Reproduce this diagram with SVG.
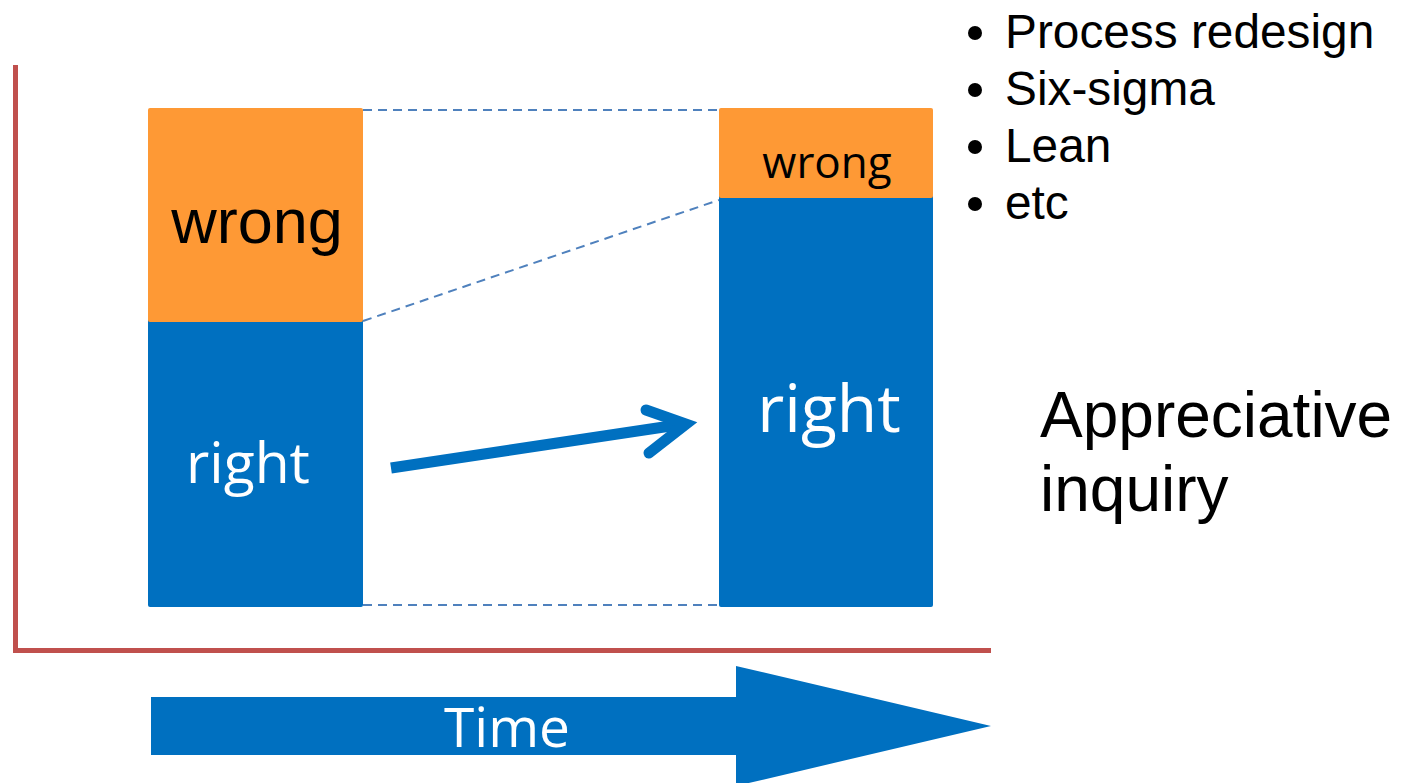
<svg xmlns="http://www.w3.org/2000/svg" width="1402" height="783" viewBox="0 0 1402 783">
  <style>
    .wrong { fill: #fe9935; }
    .right { fill: #0070c0; }
    .axis { stroke: #c0504d; stroke-width: 5; fill: none; }
    .guide { stroke: #4f81bd; stroke-width: 2; stroke-dasharray: 9 6; fill: none; }
    .sans { font-family: "Liberation Sans", Arial, sans-serif; }
    .open { font-family: "Open Sans", "Noto Sans", sans-serif; }
  </style>
  <rect width="1402" height="783" fill="#ffffff"/>

  <!-- chart axes -->
  <g id="axes">
    <path class="axis" d="M15.5 65 V650.5 H991"/>
  </g>

  <!-- before: bar split into wrong / right -->
  <g id="bar-before">
    <rect class="right" x="148" y="318" width="215" height="289" rx="2"/>
    <rect class="wrong" x="148" y="108" width="215" height="214" rx="2"/>
    <text class="sans" x="257" y="243" font-size="63" text-anchor="middle" fill="#000">wrong</text>
    <text class="open" x="248" y="483" font-size="57" text-anchor="middle" fill="#fff">right</text>
  </g>

  <!-- after: bar split into wrong / right -->
  <g id="bar-after">
    <rect class="right" x="719" y="194" width="214" height="413" rx="2"/>
    <rect class="wrong" x="719" y="108" width="214" height="90" rx="2"/>
    <text class="open" x="827" y="178" font-size="44" text-anchor="middle" fill="#000">wrong</text>
    <text class="open" x="829" y="432" font-size="66" text-anchor="middle" fill="#fff">right</text>
  </g>

  <!-- connectors between the bars -->
  <g id="connectors">
    <line class="guide" x1="363" y1="110" x2="719" y2="110"/>
    <line class="guide" x1="363" y1="321" x2="719" y2="200"/>
    <line class="guide" x1="363" y1="605" x2="719" y2="605"/>
    <g stroke="#0070c0" stroke-width="11" fill="none">
      <line x1="391" y1="468" x2="684" y2="424" stroke-linecap="butt"/>
      <polyline points="646,410 686,424 649,453" stroke-linecap="round" stroke-linejoin="miter"/>
    </g>
  </g>

  <!-- time arrow -->
  <g id="time">
    <polygon class="right" points="151,697 736,697 736,666 991,726 736,786 736,755 151,755"/>
    <text class="open" x="507" y="747" font-size="55" text-anchor="middle" fill="#fff">Time</text>
  </g>

  <!-- methods list -->
  <g id="methods" class="sans" font-size="47.8" fill="#000">
    <circle cx="975" cy="33" r="7"/>
    <circle cx="975" cy="90" r="7"/>
    <circle cx="975" cy="147" r="7"/>
    <circle cx="975" cy="204" r="7"/>
    <text x="1005" y="48">Process redesign</text>
    <text x="1005" y="105">Six-sigma</text>
    <text x="1005" y="162">Lean</text>
    <text x="1005" y="219">etc</text>
  </g>

  <!-- appreciative inquiry label -->
  <g id="appreciative" class="sans" font-size="64" fill="#000">
    <text x="1040" y="437">Appreciative</text>
    <text x="1040" y="511">inquiry</text>
  </g>
</svg>
